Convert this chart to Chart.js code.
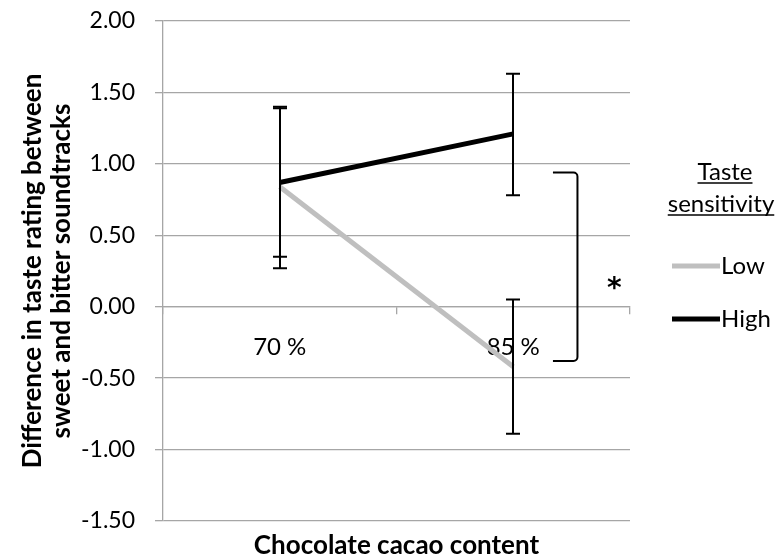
<!DOCTYPE html>
<html>
<head>
<meta charset="utf-8">
<script src="https://cdn.jsdelivr.net/npm/chart.js@4"></script>
<style>
  html, body { margin: 0; padding: 0; background: #fff; }
  #wrap { width: 781px; height: 559px; }
</style>
</head>
<body>
<div id="wrap"><canvas id="c"></canvas></div>
<script>
// values
const categories = ['70 %', '85 %'];
const lowMeans = [0.84, -0.42];
const highMeans = [0.87, 1.21];
const lowUpper = [1.40, 0.05];
const lowLower = [0.27, -0.89];
const highUpper = [1.39, 1.63];
const highLower = [0.35, 0.78];
const yTicks = [-1.5, -1.0, -0.5, 0, 0.5, 1.0, 1.5, 2.0];
const bracketRange = [-0.38, 0.94];

const FONT = 'Lato';
const GRID = '#a6a6a6';
Chart.defaults.font.family = FONT;

// error bars, significance bracket and the hand-made legend
const extras = {
  id: 'extras',
  afterDatasetsDraw(chart) {
    const { ctx, scales: { x, y } } = chart;
    ctx.save();
    ctx.strokeStyle = '#000';
    ctx.lineWidth = 2;

    [[lowUpper, lowLower], [highUpper, highLower]].forEach(([up, lo]) => {
      up.forEach((u, i) => {
        const px = Math.round(x.getPixelForValue(i));
        const y1 = y.getPixelForValue(u);
        const y2 = y.getPixelForValue(lo[i]);
        ctx.beginPath();
        ctx.moveTo(px, y1); ctx.lineTo(px, y2);
        ctx.moveTo(px - 7, y1); ctx.lineTo(px + 7, y1);
        ctx.moveTo(px - 7, y2); ctx.lineTo(px + 7, y2);
        ctx.stroke();
      });
    });

    // bracket to the right of the 85 % bars
    const bx = x.getPixelForValue(1.275);
    const ax = x.getPixelForValue(1.17);
    const bt = y.getPixelForValue(bracketRange[1]);
    const bb = y.getPixelForValue(bracketRange[0]);
    ctx.beginPath();
    ctx.moveTo(ax, bt);
    ctx.arcTo(bx, bt, bx, bb, 4);
    ctx.arcTo(bx, bb, ax, bb, 4);
    ctx.lineTo(ax, bb);
    ctx.stroke();

    ctx.fillStyle = '#000';
    ctx.font = 'bold 28px "DejaVu Sans"';
    ctx.textAlign = 'center';
    ctx.textBaseline = 'middle';
    ctx.fillText('*', x.getPixelForValue(1.433), y.getPixelForValue(0.12));

    // legend
    ctx.font = '24px ' + FONT;
    ctx.textAlign = 'center';
    ctx.textBaseline = 'middle';
    [['Taste', 725, 172, 183], ['sensitivity', 721, 204, 215]].forEach(([t, cx, cy, uy]) => {
      ctx.fillText(t, cx, cy);
      const w = ctx.measureText(t).width;
      ctx.lineWidth = 1.5;
      ctx.beginPath();
      ctx.moveTo(cx - w / 2, uy); ctx.lineTo(cx + w / 2, uy);
      ctx.stroke();
    });
    ctx.textAlign = 'left';
    chart.data.datasets.slice().sort((a, b) => b.order - a.order).forEach((ds, k) => {
      const ly = 266 + k * 53;
      ctx.strokeStyle = ds.borderColor;
      ctx.lineWidth = 5;
      ctx.beginPath();
      ctx.moveTo(672, ly); ctx.lineTo(720, ly);
      ctx.stroke();
      ctx.fillText(ds.label, 721, ly);
    });
    ctx.restore();
  }
};

new Chart(document.getElementById('c'), {
  type: 'line',
  data: {
    labels: categories,
    datasets: [
      { label: 'Low', data: lowMeans, borderColor: '#bfbfbf', borderWidth: 5, pointRadius: 0, order: 1 },
      { label: 'High', data: highMeans, borderColor: '#000000', borderWidth: 5, pointRadius: 0, order: 0 }
    ]
  },
  options: {
    responsive: true,
    maintainAspectRatio: false,
    animation: false,
    layout: { padding: { top: 21, right: 151, bottom: 0, left: 0 } },
    plugins: { legend: { display: false }, tooltip: { enabled: false } },
    scales: {
      x: {
        type: 'category',
        offset: true,
        position: { y: 0 },
        z: 1,
        afterFit: s => { s.height = 0; },
        grid: { drawOnChartArea: false, offset: true, tickLength: 7, color: GRID, lineWidth: 1.3 },
        border: { color: GRID, width: 1.3 },
        ticks: { font: { size: 24 }, color: '#000', padding: 19, maxRotation: 0 }
      },
      x2: {
        type: 'category',
        labels: categories,
        offset: true,
        position: 'bottom',
        grid: { display: false, drawTicks: false },
        border: { display: false },
        ticks: { display: false },
        title: {
          display: true,
          text: 'Chocolate cacao content',
          color: '#000',
          font: { size: 26, weight: 'bold', lineHeight: 1.0 },
          padding: { top: 12, bottom: 0 }
        }
      },
      y: {
        min: -1.5,
        max: 2,
        afterBuildTicks: s => { s.ticks = yTicks.map(v => ({ value: v })); },
        afterFit: s => { s.width = 163; s.paddingTop = 0; s.paddingBottom = 0; },
        grid: { color: GRID, lineWidth: 1.3, tickLength: 8 },
        border: { color: GRID, width: 1.3 },
        ticks: { font: { size: 23 }, color: '#000', padding: 20, callback: v => v.toFixed(2) },
        title: {
          display: true,
          text: ['Difference in taste rating between', 'sweet and bitter soundtracks'],
          color: '#000',
          font: { size: 26, weight: 'bold', lineHeight: 1.12 },
          padding: { top: 18, bottom: 0 }
        }
      }
    }
  },
  plugins: [extras]
});
</script>
</body>
</html>
